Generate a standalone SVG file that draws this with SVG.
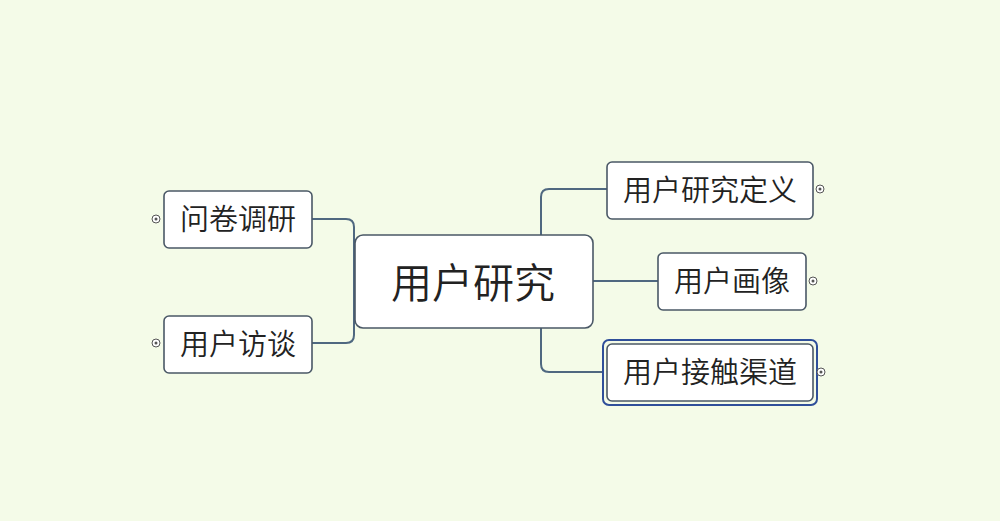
<svg xmlns="http://www.w3.org/2000/svg" width="1000" height="521" viewBox="0 0 1000 521">
<style>
.node{fill:#fff;stroke:#4a5866;stroke-width:1.6}
.t{font-family:"Noto Sans CJK SC","Noto Sans",sans-serif;font-weight:350;fill:#222;text-anchor:middle;dominant-baseline:central}
.conn{fill:none;stroke:#4f6880;stroke-width:2}
.exp circle.o{fill:#fff;stroke:#555;stroke-width:1}
.exp circle.d{fill:#555}
</style>
<rect width="1000" height="521" fill="#f4fbe8"/>
<g id="connectors">
<path class="conn" d="M312,219 H346 Q354,219 354,227 V335 Q354,343 346,343 H312"/>
<path class="conn" d="M541,235 V197 Q541,189 549,189 H607"/>
<path class="conn" d="M593,281 H658"/>
<path class="conn" d="M541,328 V364 Q541,372 549,372 H603"/>
</g>
<g id="center">
<rect class="node" x="355" y="235" width="238" height="93" rx="8"/>
<text class="t" x="473" y="280" font-size="41" fill="#1c1c30">用户研究</text>
</g>
<g id="n1">
<rect class="node" x="164" y="191" width="148" height="57" rx="5"/>
<text class="t" x="238" y="217" font-size="29">问卷调研</text>
<g class="exp"><circle class="o" cx="156" cy="219" r="4"/><circle class="d" cx="156" cy="219" r="1.5"/></g>
</g>
<g id="n2">
<rect class="node" x="164" y="316" width="148" height="57" rx="5"/>
<text class="t" x="238" y="342" font-size="29">用户访谈</text>
<g class="exp"><circle class="o" cx="156" cy="343" r="4"/><circle class="d" cx="156" cy="343" r="1.5"/></g>
</g>
<g id="n3">
<rect class="node" x="607" y="162" width="206" height="57" rx="5"/>
<text class="t" x="710" y="188" font-size="29">用户研究定义</text>
<g class="exp"><circle class="o" cx="820" cy="189" r="4"/><circle class="d" cx="820" cy="189" r="1.5"/></g>
</g>
<g id="n4">
<rect class="node" x="658" y="253" width="148" height="57" rx="5"/>
<text class="t" x="732" y="279" font-size="29">用户画像</text>
<g class="exp"><circle class="o" cx="813" cy="281" r="4"/><circle class="d" cx="813" cy="281" r="1.5"/></g>
</g>
<g id="n5">
<rect x="603" y="340" width="214" height="65" rx="6" fill="none" stroke="#2f4f9a" stroke-width="2"/>
<rect class="node" x="607" y="344" width="206" height="57" rx="5" stroke="#2f4f9a"/>
<text class="t" x="710" y="370" font-size="29">用户接触渠道</text>
<g class="exp"><circle class="o" cx="821" cy="372" r="4"/><circle class="d" cx="821" cy="372" r="1.5"/></g>
</g>
</svg>
